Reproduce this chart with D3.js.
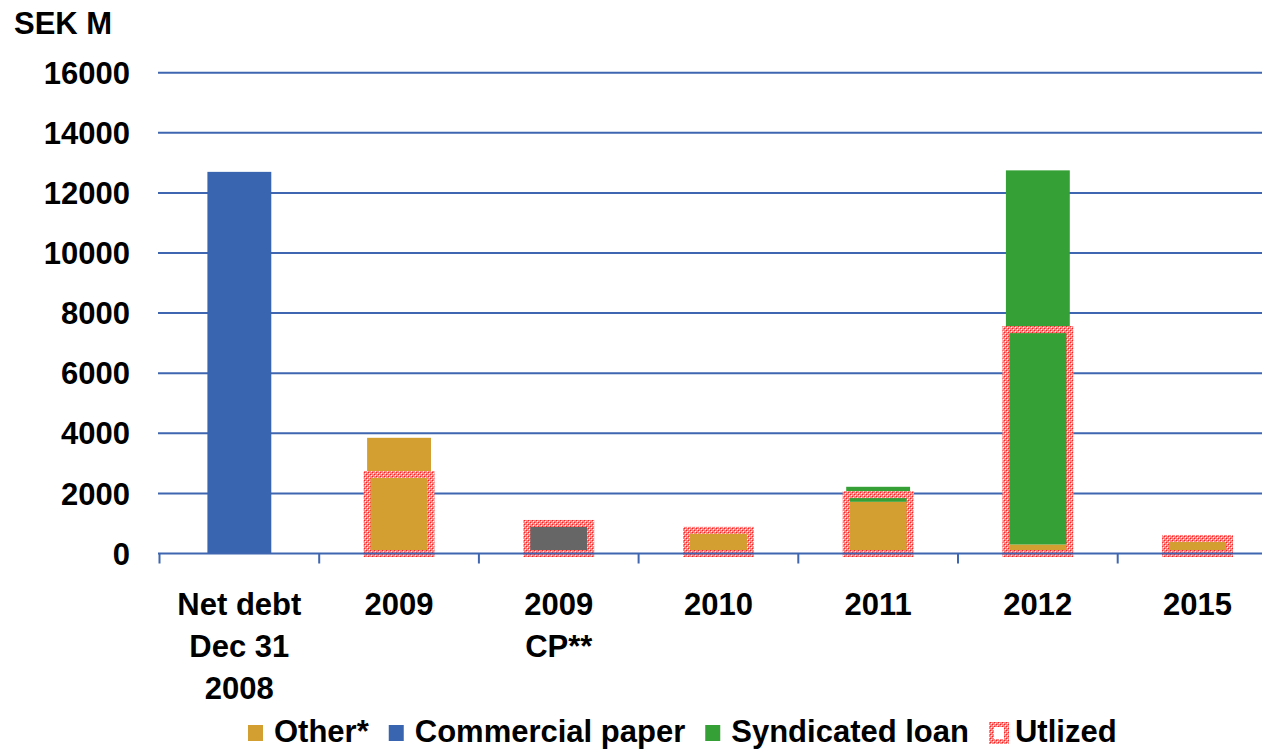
<!DOCTYPE html>
<html>
<head>
<meta charset="utf-8">
<script src="https://cdn.jsdelivr.net/npm/d3@7"></script>
<style>
body{margin:0;background:#fff;}
text{font-family:"Liberation Sans",Arial,sans-serif;font-weight:bold;fill:#000;}
</style>
</head>
<body>
<div id="chart"></div>
<script>
// values, SEK M
var categories=['Net debt|Dec 31|2008','2009','2009|CP**','2010','2011','2012','2015'];
var other=[0,3850,0,700,1720,300,400];
var commercialPaper=[12700,0,0,0,0,0,0];
var syndicatedLoan=[0,0,0,0,500,12450,0];
var cpBar=[0,0,950,0,0,0,0];
var utilized=[0,2630,1000,770,1960,7450,500];
var yTicks=[0,2000,4000,6000,8000,10000,12000,14000,16000];
var legendNames=['Other*','Commercial paper','Syndicated loan','Utlized'];

var W=1262,H=752;
var svg=d3.select('#chart').append('svg').attr('width',W).attr('height',H);

// checker pattern for the utilized frame
var defs=svg.append('defs');
var pat=defs.append('pattern').attr('id','chk').attr('patternUnits','userSpaceOnUse').attr('width',4).attr('height',4);
pat.append('rect').attr('width',4).attr('height',4).attr('fill','#ff8585');
pat.append('rect').attr('x',0).attr('y',0).attr('width',1).attr('height',1).attr('fill','#ff1f1f');
pat.append('rect').attr('x',2).attr('y',2).attr('width',1).attr('height',1).attr('fill','#ff1f1f');
pat.append('rect').attr('x',1).attr('y',1).attr('width',1).attr('height',1).attr('fill','#ffffff');
pat.append('rect').attr('x',3).attr('y',3).attr('width',1).attr('height',1).attr('fill','#ffffff');

var x=d3.scaleBand().domain(categories).range([159.5,1277.4]);
var y=d3.scaleLinear().domain([0,16000]).range([553.5,72.7]);
var bw=x.bandwidth()*0.4;
var gridColor='#3f66b0';

// gridlines
svg.append('g').selectAll('line').data(yTicks.slice(1)).enter().append('line')
  .attr('x1',158).attr('x2',W).attr('y1',function(d){return y(d);}).attr('y2',function(d){return y(d);})
  .attr('stroke',gridColor).attr('stroke-width',2);

// y labels
svg.append('g').selectAll('text').data(yTicks).enter().append('text')
  .attr('x',130).attr('y',function(d){return y(d);}).attr('dy','0.36em')
  .attr('text-anchor','end').style('font-size','31px').text(function(d){return d;});
svg.append('text').attr('x',14).attr('y',34).style('font-size','31px').text('SEK M');

// stacked bars
var rows=categories.map(function(c,i){return {cat:c,other:other[i],cp:commercialPaper[i],syn:syndicatedLoan[i],gray:cpBar[i]};});
var keys=['other','cp','syn','gray'];
var colors={other:'#d39f30',cp:'#3864b0',syn:'#35a035',gray:'#666666'};
var stack=d3.stack().keys(keys)(rows);
svg.append('g').selectAll('g').data(stack).enter().append('g').attr('fill',function(s){return colors[s.key];})
  .selectAll('rect').data(function(s){return s;}).enter().append('rect')
  .attr('x',function(d){return x(d.data.cat)+(x.bandwidth()-bw)/2;})
  .attr('width',bw)
  .attr('y',function(d){return y(d[1]);})
  .attr('height',function(d){return y(d[0])-y(d[1]);});

// utilized frames
svg.append('g').selectAll('rect').data(utilized.map(function(v,i){return {cat:categories[i],v:v};}).filter(function(d){return d.v>0;}))
  .enter().append('rect')
  .attr('x',function(d){return x(d.cat)+(x.bandwidth()-bw)/2;})
  .attr('width',bw)
  .attr('y',function(d){return y(d.v);})
  .attr('height',function(d){return y(0)-y(d.v);})
  .attr('fill','none').attr('stroke','url(#chk)').attr('stroke-width',7);

// x axis
var ax=svg.append('g');
ax.append('line').attr('x1',158).attr('x2',W).attr('y1',y(0)).attr('y2',y(0)).attr('stroke',gridColor).attr('stroke-width',2);
ax.selectAll('.tk').data(categories).enter().append('line')
  .attr('x1',function(d){return x(d);}).attr('x2',function(d){return x(d);})
  .attr('y1',y(0)).attr('y2',y(0)+10).attr('stroke',gridColor).attr('stroke-width',2);
ax.selectAll('.lb').data(categories).enter().append('text')
  .attr('text-anchor','middle').style('font-size','31px')
  .attr('transform',function(d){return 'translate('+(x(d)+x.bandwidth()/2)+',604)';})
  .each(function(d){
    var t=d3.select(this);
    d.split('|').forEach(function(s,i){t.append('tspan').attr('x',0).attr('y',i*42).attr('dy','0.36em').text(s);});
  });

// legend
var lg=svg.append('g');
var legFill=[colors.other,colors.cp,colors.syn,null];
var lx=248,ly=731;
legendNames.forEach(function(n,i){
  if(legFill[i]){
    lg.append('rect').attr('x',lx).attr('y',ly-6).attr('width',15).attr('height',16).attr('fill',legFill[i]);
  }else{
    lg.append('rect').attr('x',lx+2.5).attr('y',ly-6.5).attr('width',15).attr('height',17)
      .attr('fill','#fff').attr('stroke','url(#chk)').attr('stroke-width',5);
  }
  var t=lg.append('text').attr('x',lx+26).attr('y',ly).attr('dy','0.36em').style('font-size','31px').text(n);
  lx+=26+t.node().getComputedTextLength()+20;
});
</script>
</body>
</html>
